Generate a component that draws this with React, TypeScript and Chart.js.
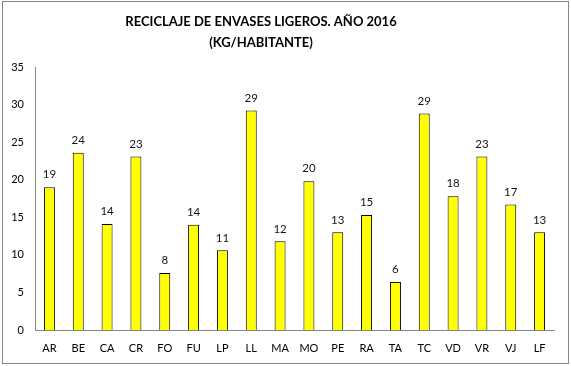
import React, { useEffect, useRef } from "react";
import { Chart, registerables } from "chart.js";

Chart.register(...registerables);

const categories = ["AR", "BE", "CA", "CR", "FO", "FU", "LP", "LL", "MA", "MO", "PE", "RA", "TA", "TC", "VD", "VR", "VJ", "LF"];
const values = [19.0, 23.6, 14.1, 23.1, 7.6, 14.0, 10.6, 29.2, 11.8, 19.8, 13.0, 15.3, 6.4, 28.8, 17.8, 23.1, 16.7, 13.0];
const titleLines = ["RECICLAJE DE ENVASES LIGEROS. AÑO 2016", "(KG/HABITANTE)"];
const yTicks = [0, 5, 10, 15, 20, 25, 30, 35];

const FONT = "Lato, 'Open Sans', sans-serif";

const decorPlugin = {
  id: "decor",
  afterDraw(chart: any) {
    const ctx = chart.ctx;
    ctx.save();
    // outer border
    ctx.strokeStyle = "#888888";
    ctx.lineWidth = 1;
    ctx.strokeRect(2.5, 1.5, 566, 362);
    // title
    ctx.fillStyle = "#000000";
    ctx.font = `bold 13px ${FONT}`;
    ctx.textAlign = "center";
    ctx.textBaseline = "middle";
    ctx.fillText(titleLines[0], 261, 22);
    ctx.fillText(titleLines[1], 261, 43);
    // data labels
    ctx.font = `11.5px ${FONT}`;
    ctx.fillStyle = "#1a1020";
    const meta = chart.getDatasetMeta(0);
    meta.data.forEach((bar: any, i: number) => {
      ctx.fillText(String(Math.round(values[i])), bar.x, bar.y - 12.5);
    });
    ctx.restore();
  },
};

export default function App() {
  const ref = useRef<HTMLCanvasElement>(null);
  useEffect(() => {
    document.body.style.margin = "0";
    const chart = new Chart(ref.current!, {
      type: "bar",
      data: {
        labels: categories,
        datasets: [
          {
            data: values,
            backgroundColor: "#FFFF00",
            borderColor: "#000000",
            borderWidth: 1,
            barPercentage: 0.38,
            categoryPercentage: 1,
          },
        ],
      },
      options: {
        animation: false,
        responsive: false,
        devicePixelRatio: 1,
        layout: { padding: { left: 0, top: 67, right: 17, bottom: 0 } },
        plugins: { legend: { display: false }, title: { display: false }, tooltip: { enabled: false } },
        scales: {
          x: {
            grid: { display: false, drawTicks: false },
            border: { display: true, color: "#888888", width: 1 },
            ticks: { color: "#000000", font: { family: FONT, size: 11 }, padding: 12, maxRotation: 0, autoSkip: false },
            afterFit: (s: any) => { s.height = 36; },
          },
          y: {
            min: 0,
            max: 35,
            afterBuildTicks: (s: any) => { s.ticks = yTicks.map((v) => ({ value: v })); },
            grid: { display: false, drawTicks: false },
            border: { display: true, color: "#888888", width: 1 },
            ticks: { color: "#000000", font: { family: FONT, size: 11 }, padding: 11 },
            afterFit: (s: any) => { s.width = 35; },
          },
        },
      },
      plugins: [decorPlugin],
    });
    return () => chart.destroy();
  }, []);
  return <canvas ref={ref} width={571} height={366} style={{ display: "block" }} />;
}
